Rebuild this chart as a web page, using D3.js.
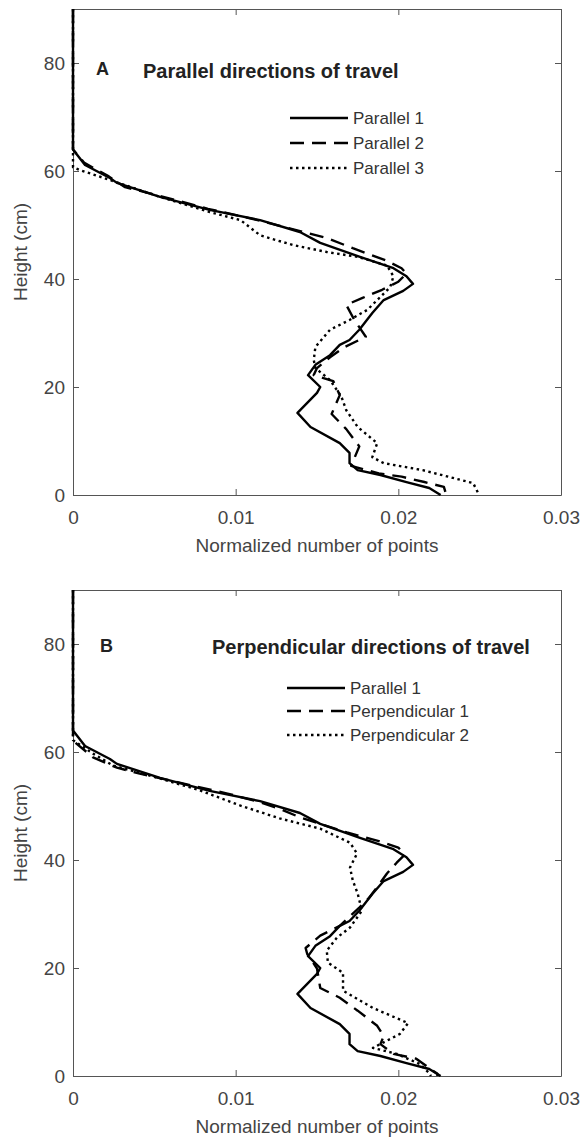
<!DOCTYPE html>
<html>
<head>
<meta charset="utf-8">
<script src="https://cdn.jsdelivr.net/npm/d3@7"></script>
<style>
  body { margin: 0; background: #fff; }
  svg { display: block; font-family: "Liberation Sans", Arial, sans-serif; }
</style>
</head>
<body>
<script>
// ---- data (height in cm, normalized number of points) ----
var xTicks = [0, 0.01, 0.02, 0.03];
var yTicks = [0, 20, 40, 60, 80];

var par1H = [90, 64, 61.1, 58.7, 57.8, 55.2, 52.8, 50.9, 48.7, 46.7, 44.1, 42.0, 40.5, 39.1, 37.8, 36.1, 33.7, 30.6, 28.7, 27.8, 25.9, 24.1, 22.2, 20.0, 18.9, 15.2, 12.6, 9.6, 7.8, 5.9, 4.6, 3.7, 2.4, 1.3, 0];
var par1V = [0, 0, 0.00074, 0.00227, 0.0027, 0.00535, 0.0084, 0.0115, 0.01395, 0.0152, 0.01764, 0.0197, 0.0205, 0.0209, 0.0203, 0.0191, 0.0184, 0.0176, 0.0170, 0.0164, 0.0158, 0.0149, 0.01445, 0.0152, 0.0150, 0.0138, 0.0146, 0.0164, 0.0170, 0.0170, 0.0175, 0.0189, 0.0205, 0.0219, 0.0226];

var par2H = [90, 64, 61.5, 59, 57, 55.5, 53, 50.8, 47.6, 45.7, 43.5, 42, 41, 39.5, 38, 36.5, 35.2, 32.4, 29.3, 27.4, 25.5, 23.5, 22.2, 21.1, 18.5, 15, 12.2, 9, 5.4, 4.0, 3.4, 2.4, 1.5, 0.5, 0];
var par2V = [0, 0, 0.0007, 0.0022, 0.0032, 0.0052, 0.0083, 0.0115, 0.0156, 0.0172, 0.0192, 0.0202, 0.0205, 0.0200, 0.0190, 0.0178, 0.0168, 0.0173, 0.0180, 0.0167, 0.0158, 0.0150, 0.0148, 0.0160, 0.0164, 0.0159, 0.0168, 0.0176, 0.0171, 0.0188, 0.0202, 0.0216, 0.0228, 0.0229, 0.0229];

var par3H = [90, 64, 60.7, 60.2, 58.3, 55.2, 52.4, 50.9, 48.1, 46.3, 45, 44.1, 42.5, 40.5, 38.5, 37, 36.1, 34.3, 32.4, 30.6, 27.4, 25, 23.5, 21.3, 18.2, 15.7, 12.6, 9.6, 7, 5.9, 4.6, 2.2, 0.4, 0];
var par3V = [0, 0, 0, 0.0004, 0.0023, 0.00535, 0.0084, 0.0103, 0.0115, 0.0135, 0.0156, 0.0175, 0.0193, 0.0197, 0.0195, 0.0190, 0.0187, 0.0181, 0.0170, 0.0158, 0.0149, 0.0148, 0.0149, 0.0158, 0.0165, 0.0168, 0.0175, 0.0187, 0.0184, 0.0191, 0.0215, 0.0246, 0.0249, 0.0250];

var perp1H = [90, 64, 62.1, 59, 57.1, 56, 52.3, 50.7, 49.5, 47.9, 45.1, 43.5, 42.3, 41, 39.5, 37.5, 35, 33, 31.2, 27.8, 26, 23.7, 22.6, 19.9, 16.3, 14.5, 12.1, 9.3, 7.4, 5.9, 4.1, 3.2, 0.4, 0];
var perp1V = [0, 0, 0, 0.00123, 0.0027, 0.0041, 0.0095, 0.0115, 0.0127, 0.01395, 0.01684, 0.0188, 0.0200, 0.0204, 0.0199, 0.0193, 0.0187, 0.0182, 0.0176, 0.0164, 0.0152, 0.0143, 0.0144, 0.0150, 0.0152, 0.0164, 0.0175, 0.0187, 0.0191, 0.0189, 0.0197, 0.0211, 0.0224, 0.0224];

var perp2H = [90, 64, 62.2, 59.7, 57.5, 55.1, 52.9, 50.1, 47.7, 45.8, 43.2, 41.2, 38.6, 36.2, 33.8, 30.6, 27.5, 25.6, 23.2, 21, 19.1, 15.8, 12.6, 9.8, 7.8, 5.2, 4.1, 2.2, 0.4, 0];
var perp2V = [0, 0, 0, 0.00123, 0.00246, 0.00535, 0.0078, 0.01026, 0.0127, 0.0152, 0.01703, 0.01746, 0.01703, 0.0172, 0.0175, 0.01776, 0.01703, 0.01622, 0.0156, 0.01567, 0.0166, 0.0166, 0.01844, 0.0206, 0.0201, 0.01844, 0.0199, 0.02133, 0.02194, 0.0220];

var panels = [
  { letter: "A", title: "Parallel directions of travel", top: 9,
    letterX: 96, letterY: 69, titleX: 143, titleY: 71,
    legendY: [118, 143, 168], legendX: 290,
    series: [
      { name: "Parallel 1", h: par1H, v: par1V, style: "solid" },
      { name: "Parallel 2", h: par2H, v: par2V, style: "dashed" },
      { name: "Parallel 3", h: par3H, v: par3V, style: "dotted" }
    ] },
  { letter: "B", title: "Perpendicular directions of travel", top: 590,
    letterX: 100, letterY: 646, titleX: 212, titleY: 647,
    legendY: [688, 711, 735], legendX: 287,
    series: [
      { name: "Parallel 1", h: par1H, v: par1V, style: "solid" },
      { name: "Perpendicular 1", h: perp1H, v: perp1V, style: "dashed" },
      { name: "Perpendicular 2", h: perp2H, v: perp2V, style: "dotted" }
    ] }
];

var W = 582, H = 1137;
var left = 73, right = 561, plotH = 486;
var dash = { solid: null, dashed: "14,8", dotted: "2.5,3.5" };

var svg = d3.select("body").append("svg").attr("width", W).attr("height", H);

panels.forEach(function(p) {
  var x = d3.scaleLinear().domain([0, 0.03]).range([left, right]);
  var y = d3.scaleLinear().domain([0, 90]).range([p.top + plotH, p.top]);
  var g = svg.append("g");

  function styleAxis(a) {
    a.select(".domain").attr("stroke", "#555").attr("stroke-width", 1);
    a.selectAll(".tick line").attr("stroke", "#555");
    a.selectAll(".tick text").attr("fill", "#444").attr("font-size", 19);
  }

  g.append("g").attr("transform", "translate(0," + y(0) + ")")
    .call(d3.axisBottom(x).tickValues(xTicks).tickFormat(d3.format("")).tickSize(-6).tickSizeOuter(0).tickPadding(16))
    .call(styleAxis);
  g.append("g").attr("transform", "translate(0," + y(90) + ")")
    .call(d3.axisTop(x).tickValues(xTicks).tickFormat("").tickSize(-6).tickSizeOuter(0))
    .call(styleAxis);
  g.append("g").attr("transform", "translate(" + left + ",0)")
    .call(d3.axisLeft(y).tickValues(yTicks).tickSize(-6).tickSizeOuter(0).tickPadding(8))
    .call(styleAxis);
  g.append("g").attr("transform", "translate(" + right + ",0)")
    .call(d3.axisRight(y).tickValues(yTicks).tickFormat("").tickSize(-6).tickSizeOuter(0))
    .call(styleAxis);

  var line = d3.line()
    .x(function(d) { return x(d[1]); })
    .y(function(d) { return y(d[0]); });

  p.series.slice().reverse().forEach(function(s) {
    g.append("path")
      .datum(d3.zip(s.h, s.v))
      .attr("d", line)
      .attr("fill", "none")
      .attr("stroke", "#000")
      .attr("stroke-width", 2.4)
      .attr("stroke-linejoin", "round")
      .attr("stroke-dasharray", dash[s.style]);
  });

  g.append("text").attr("x", p.letterX).attr("y", p.letterY)
    .attr("dy", "0.35em").attr("font-weight", "bold").attr("font-size", 18)
    .attr("fill", "#222").text(p.letter);
  g.append("text").attr("x", p.titleX).attr("y", p.titleY)
    .attr("dy", "0.35em").attr("font-weight", "bold").attr("font-size", 20)
    .attr("fill", "#222").text(p.title);

  p.series.forEach(function(s, i) {
    var ly = p.legendY[i];
    g.append("line").attr("x1", p.legendX).attr("x2", p.legendX + 58)
      .attr("y1", ly).attr("y2", ly)
      .attr("stroke", "#000").attr("stroke-width", 2.4)
      .attr("stroke-dasharray", dash[s.style]);
    g.append("text").attr("x", p.legendX + 63).attr("y", ly)
      .attr("dy", "0.35em").attr("font-size", 17).attr("fill", "#333")
      .text(s.name);
  });

  g.append("text")
    .attr("transform", "translate(20," + (p.top + plotH / 2) + ") rotate(-90)")
    .attr("text-anchor", "middle").attr("dy", "0.35em")
    .attr("font-size", 19).attr("fill", "#444").text("Height (cm)");
  g.append("text")
    .attr("x", (left + right) / 2).attr("y", y(0) + 50)
    .attr("text-anchor", "middle").attr("dy", "0.35em")
    .attr("font-size", 19).attr("fill", "#444").text("Normalized number of points");
});
</script>
</body>
</html>
